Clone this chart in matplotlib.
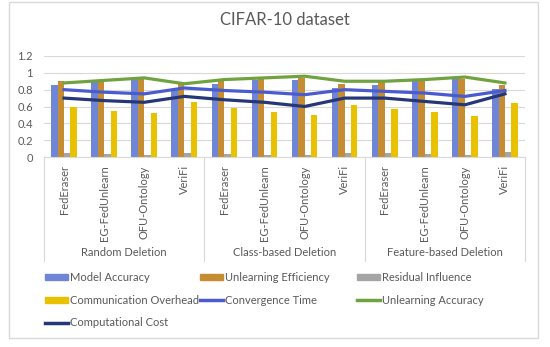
import numpy as np
import matplotlib.pyplot as plt
from matplotlib.lines import Line2D
from matplotlib.patches import Rectangle, Patch

plt.rcParams['font.family'] = ['Lato', 'DejaVu Sans']

methods = ["FedEraser", "EG-FedUnlearn", "OFU-Ontology", "VeriFi"]
groups = ["Random Deletion", "Class-based Deletion", "Feature-based Deletion"]

model_accuracy = [0.85, 0.90, 0.92, 0.80, 0.87, 0.91, 0.92, 0.82, 0.86, 0.91, 0.93, 0.81]
unlearning_efficiency = [0.90, 0.91, 0.93, 0.87, 0.92, 0.93, 0.94, 0.87, 0.90, 0.92, 0.93, 0.86]
residual_influence = [0.05, 0.03, 0.02, 0.05, 0.03, 0.02, 0.02, 0.05, 0.05, 0.03, 0.02, 0.06]
communication_overhead = [0.60, 0.55, 0.52, 0.65, 0.58, 0.53, 0.50, 0.62, 0.57, 0.54, 0.49, 0.64]
convergence_time = [0.80, 0.77, 0.75, 0.82, 0.79, 0.77, 0.74, 0.80, 0.78, 0.76, 0.72, 0.79]
unlearning_accuracy = [0.88, 0.91, 0.94, 0.87, 0.92, 0.94, 0.96, 0.90, 0.90, 0.92, 0.95, 0.88]
computational_cost = [0.70, 0.67, 0.65, 0.72, 0.68, 0.65, 0.60, 0.70, 0.70, 0.66, 0.62, 0.75]

bar_series = [
    ("Model Accuracy", model_accuracy, "#6f86d6"),
    ("Unlearning Efficiency", unlearning_efficiency, "#c58c32"),
    ("Residual Influence", residual_influence, "#a5a5a5"),
    ("Communication Overhead", communication_overhead, "#e8c100"),
]
line_series = [
    ("Convergence Time", convergence_time, "#4a5bcf"),
    ("Unlearning Accuracy", unlearning_accuracy, "#70a33f"),
    ("Computational Cost", computational_cost, "#263777"),
]

W, H = 550, 347
fig = plt.figure(figsize=(W / 100, H / 100), dpi=100)
fig.patch.set_facecolor("white")

# outer chart border like the Excel chart area
fig.add_artist(Rectangle((9 / W, (H - 338) / H), (538 - 9) / W, (338 - 2) / H,
                         transform=fig.transFigure, fill=False,
                         edgecolor="#d9d9d9", linewidth=1))

ax = fig.add_axes([44 / W, (H - 157) / H, (525 - 44) / W, (157 - 56) / H])

labels = methods * len(groups)
x = np.arange(len(labels))
bw = 0.16
for i, (name, vals, col) in enumerate(bar_series):
    ax.bar(x + (i - 1.5) * bw, vals, bw, color=col, zorder=2)
for name, vals, col in line_series:
    ax.plot(x, vals, color=col, lw=2.3, zorder=3)

ax.set_xlim(-0.5, len(labels) - 0.5)
ax.set_ylim(0, 1.2)
ax.set_yticks(np.arange(0, 1.21, 0.2))
ax.set_yticklabels(["0", "0.2", "0.4", "0.6", "0.8", "1", "1.2"])
ax.grid(axis="y", color="#d9d9d9", lw=0.8, zorder=0)
for s in ["top", "right", "left"]:
    ax.spines[s].set_visible(False)
ax.spines["bottom"].set_color("#d9d9d9")
ax.tick_params(axis="y", length=0, labelsize=8, labelcolor="#595959", pad=8)
ax.set_xticks(x)
ax.set_xticklabels(labels, rotation=90, fontsize=8, color="#595959")
ax.tick_params(axis="x", length=0, pad=6)

ax.set_title("CIFAR-10 dataset", fontsize=12, color="#595959", pad=22)

# group labels and separators
for g, name in enumerate(groups):
    ax.text(g * 4 + 1.5, -0.95, name, transform=ax.get_xaxis_transform(),
            ha="center", va="center", fontsize=8, color="#595959")
for b in range(len(groups) + 1):
    ax.plot([b * 4 - 0.5] * 2, [0, -1.03], transform=ax.get_xaxis_transform(),
            color="#d9d9d9", lw=0.8, clip_on=False)

# legend laid out row-wise in three columns
handles = [Patch(color=c, label=n) for n, v, c in bar_series] + \
          [Line2D([], [], color=c, lw=2.5, label=n) for n, v, c in line_series]
cols = [[0, 3, 6], [1, 4], [2, 5]]
col_x = [45, 200, 357]
for cx, idx in zip(col_x, cols):
    fig.legend(handles=[handles[i] for i in idx], loc="upper left",
               bbox_to_anchor=(cx / W, (H - 272) / H), frameon=False,
               fontsize=8, labelcolor="#595959", borderpad=0, borderaxespad=0,
               handlelength=2.1, handleheight=0.5, handletextpad=0.15,
               labelspacing=1.05)

fig.savefig("out.png", dpi=100)
